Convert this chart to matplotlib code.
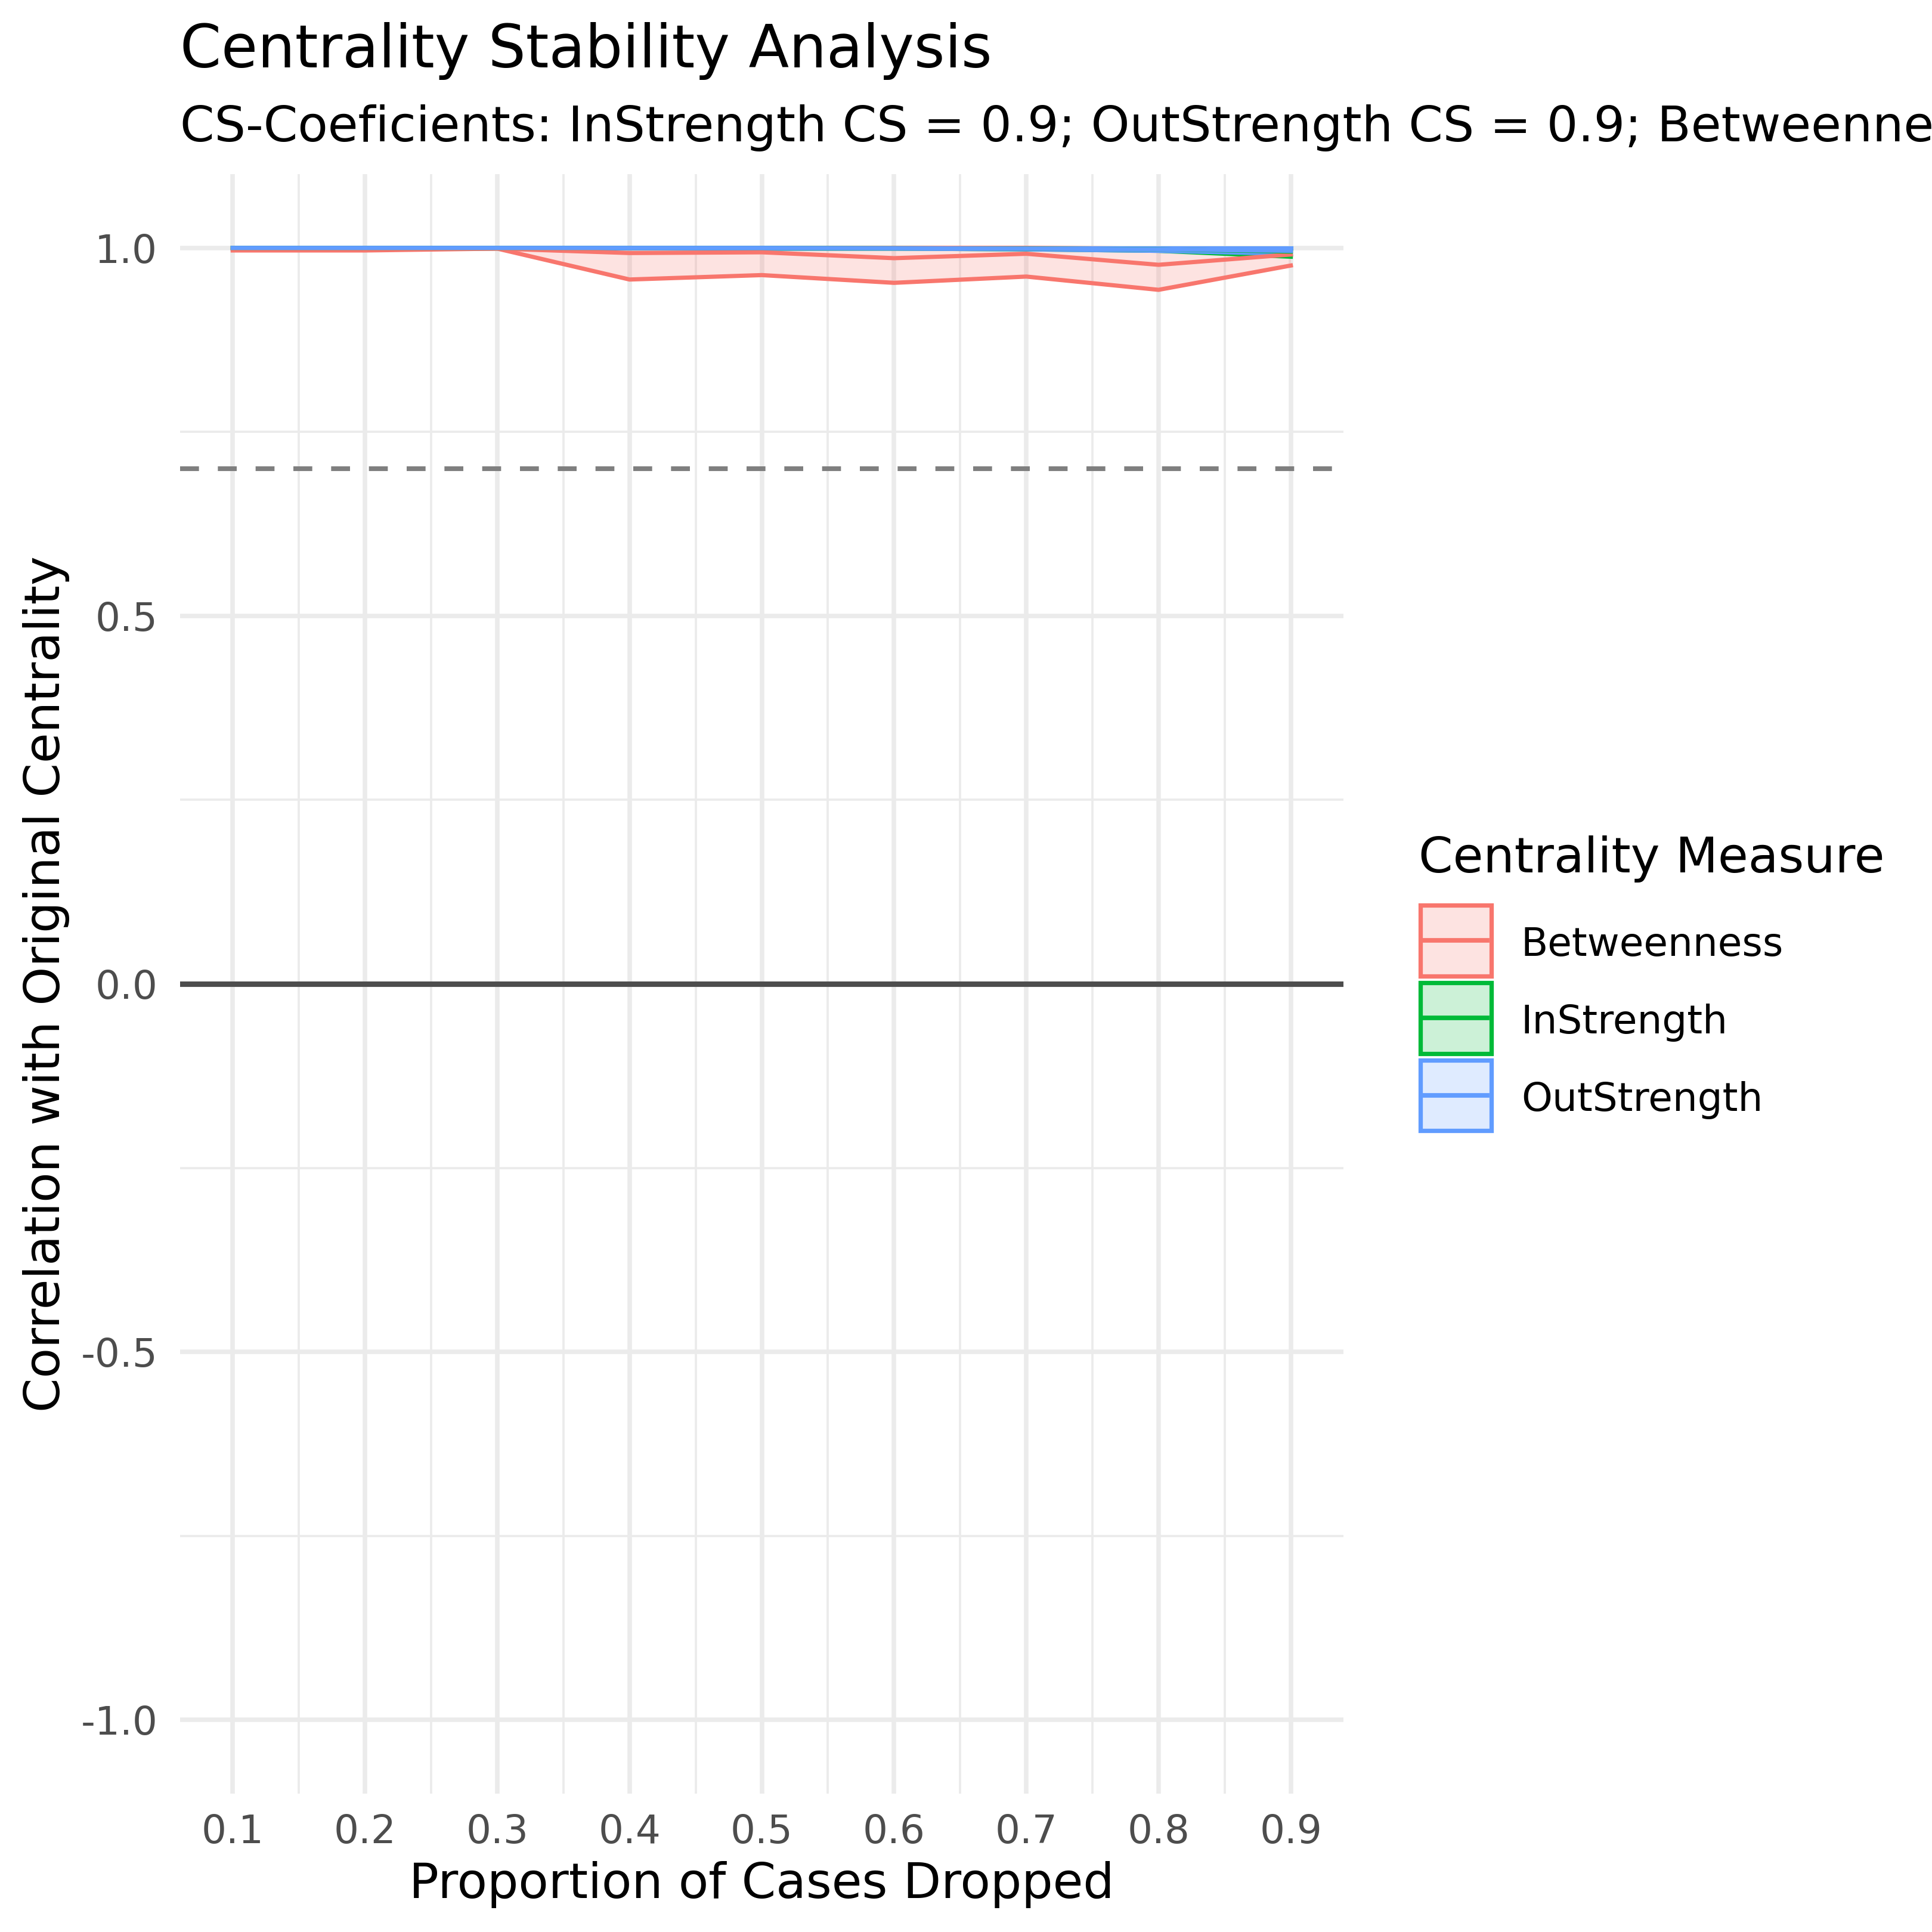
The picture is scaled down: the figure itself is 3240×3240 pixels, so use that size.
import numpy as np
import matplotlib
matplotlib.use("Agg")
import matplotlib.pyplot as plt
from matplotlib.patches import Rectangle
from matplotlib.lines import Line2D

# proportion of cases dropped
drop_prop = [0.1, 0.2, 0.3, 0.4, 0.5, 0.6, 0.7, 0.8, 0.9]

# mean correlation with original centrality + ribbon bounds
betw_mean = [0.998, 0.998, 0.999, 0.993, 0.994, 0.986, 0.992, 0.977, 0.991]
betw_lower = [0.9965, 0.9965, 0.999, 0.957, 0.963, 0.9525, 0.961, 0.943, 0.976]
betw_upper = [1.0, 1.0, 1.0, 1.0, 1.0, 1.0, 1.0, 0.999, 0.998]

instr_mean = [1.0, 1.0, 1.0, 1.0, 1.0, 0.9995, 0.999, 0.998, 0.995]
instr_lower = [1.0, 1.0, 1.0, 0.9995, 0.999, 0.999, 0.998, 0.996, 0.988]
instr_upper = [1.0, 1.0, 1.0, 1.0, 1.0, 1.0, 1.0, 1.0, 1.0]

outstr_mean = [1.0, 1.0, 1.0, 1.0, 1.0, 0.9995, 0.999, 0.998, 0.996]
outstr_lower = [1.0, 1.0, 1.0, 0.9995, 0.999, 0.999, 0.998, 0.996, 0.992]
outstr_upper = [1.0, 1.0, 1.0, 1.0, 1.0, 1.0, 1.0, 1.0, 1.0]

measures = ["Betweenness", "InStrength", "OutStrength"]
colors = ["#F8766D", "#00BA38", "#619CFF"]
cs_threshold = 0.7

subtitle = "CS-Coeficients: InStrength CS = 0.9; OutStrength CS = 0.9; Betweenness CS = 0.9"

plt.rcParams['font.family'] = ['DejaVu Sans']
base = 19.8

fig = plt.figure(figsize=(10.8, 10.8), dpi=300)
ax = fig.add_axes([0.0931, 0.0717, 0.6024, 0.8381])

series = [
    (betw_mean, betw_lower, betw_upper),
    (instr_mean, instr_lower, instr_upper),
    (outstr_mean, outstr_lower, outstr_upper),
]

# ribbons first, then the mean lines on top (like ggplot layers)
for (m, lo, hi), col in zip(series, colors):
    ax.fill_between(drop_prop, lo, hi, color=col, alpha=0.2, lw=0, zorder=3)
    ax.plot(drop_prop, lo, color=col, lw=1.7, zorder=3)
    ax.plot(drop_prop, hi, color=col, lw=1.7, zorder=3)
for (m, lo, hi), col in zip(series, colors):
    ax.plot(drop_prop, m, color=col, lw=1.7, zorder=4)

ax.axhline(cs_threshold, color="#7F7F7F", lw=1.9, linestyle=(0, (4, 4)), zorder=2)
ax.axhline(0, color="#4D4D4D", lw=2.2, zorder=2)

ax.set_xlim(0.06, 0.94)
ax.set_ylim(-1.1, 1.1)
ax.set_xticks(drop_prop)
ax.set_xticklabels([f"{v:.1f}" for v in drop_prop])
ax.set_xticks(np.arange(0.15, 0.9, 0.1), minor=True)
yt = [-1.0, -0.5, 0.0, 0.5, 1.0]
ax.set_yticks(yt)
ax.set_yticklabels([f"{v:.1f}" for v in yt])
ax.set_yticks([-0.75, -0.25, 0.25, 0.75], minor=True)

ax.grid(which="major", color="#EBEBEB", lw=1.8, zorder=0)
ax.grid(which="minor", color="#EBEBEB", lw=0.9, zorder=0)
ax.set_axisbelow(True)
for s in ax.spines.values():
    s.set_visible(False)
ax.tick_params(which="both", length=0)
ax.tick_params(axis="x", pad=7.9, labelsize=base * 0.8, labelcolor="#4D4D4D")
ax.tick_params(axis="y", pad=9.0, labelsize=base * 0.8, labelcolor="#4D4D4D")

# titles and axis labels
fig.text(0.0931, 0.9651, "Centrality Stability Analysis", fontsize=base * 1.2, va="baseline", ha="left")
fig.text(0.0931, 0.9269, subtitle, fontsize=base, va="baseline", ha="left")
fig.text(0.3943, 0.0176, "Proportion of Cases Dropped", fontsize=base, va="baseline", ha="center")
fig.text(0.0309, 0.4907, "Correlation with Original Centrality", fontsize=base, rotation=90,
         rotation_mode="anchor", va="baseline", ha="center")

# legend drawn by hand to get ggplot-style keys
fig.text(0.7343, 0.5484, "Centrality Measure", fontsize=base, va="baseline", ha="left")
key_x, key_w, key_h = 0.7352, 0.0366, 0.0367
key_bottom = 0.4948
step = 0.04006
for i, (name, col) in enumerate(zip(measures, colors)):
    y0 = key_bottom - i * step
    yc = y0 + key_h / 2
    fig.add_artist(Rectangle((key_x, y0), key_w, key_h, transform=fig.transFigure,
                             facecolor=col, alpha=0.2, lw=0))
    fig.add_artist(Rectangle((key_x, y0), key_w, key_h, transform=fig.transFigure,
                             facecolor="none", edgecolor=col, lw=1.75))
    fig.add_artist(Line2D([0.7374, 0.7696], [yc, yc],
                          transform=fig.transFigure, color=col, lw=1.85))
    fig.text(0.7873, yc - 0.0080, name, fontsize=base * 0.8, va="baseline", ha="left")

fig.savefig("out.png", dpi=300)
